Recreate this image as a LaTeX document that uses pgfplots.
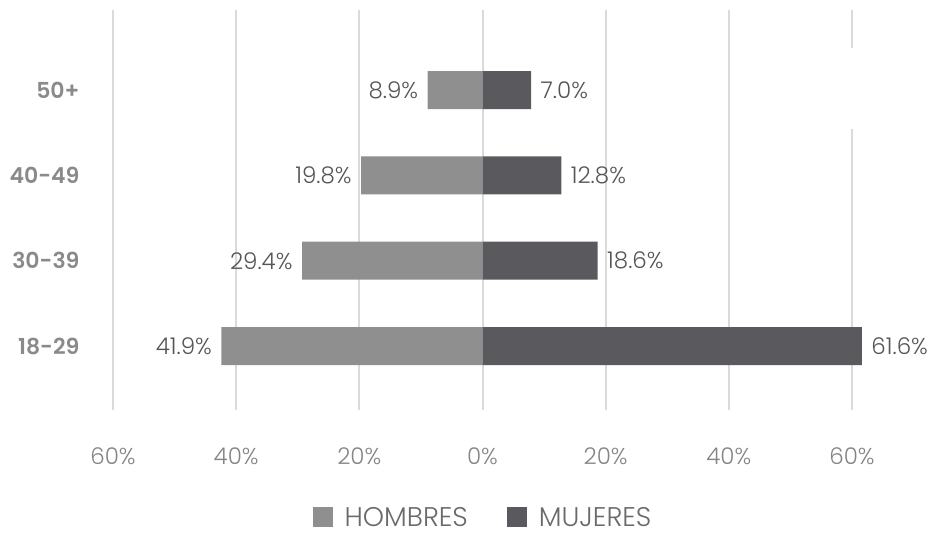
\documentclass[border=0pt]{standalone}
\usepackage{pgfplots}
\pgfplotsset{compat=1.18}
\usepackage{fontspec}
\setmainfont{Poppins}[UprightFont=* Light, BoldFont=* SemiBold]
\definecolor{hombres}{HTML}{8E8F8E}
\definecolor{mujeres}{HTML}{5A595E}
\definecolor{gridc}{HTML}{DADADA}
\definecolor{tickc}{HTML}{858585}
\definecolor{catc}{HTML}{8A8A8C}
\definecolor{valc}{HTML}{555555}
\begin{document}
\begin{tikzpicture}
\useasboundingbox (-113pt,-131pt) rectangle (820pt,410pt);
\begin{axis}[
    scale only axis,
    width=739pt, height=400pt,
    xmin=-60, xmax=60,
    ymin=-0.75, ymax=3.94,
    clip=false,
    axis line style={draw=none},
    major tick length=0pt,
    xtick={-60,-40,-20,0,20,40,60},
    xticklabels={60\%,40\%,20\%,0\%,20\%,40\%,60\%},
    xticklabel style={font=\fontsize{23}{26}\selectfont, text=tickc, yshift=-34pt},
    ytick={0,1,2,3},
    yticklabels={18-29,30-39,40-49,50+},
    yticklabel style={font=\fontsize{22}{26}\selectfont\bfseries, text=catc, xshift=-30pt},
    xmajorgrids,
    grid style={gridc, line width=2pt},
    xbar, bar width=38pt, bar shift=0pt,
    point meta=explicit symbolic,
    nodes near coords={\pgfplotspointmeta},
    nodes near coords style={font=\fontsize{23}{26}\selectfont, text=valc},
    legend style={at={(0.5,-0.268)}, anchor=center, draw=none, inner sep=0pt,
        nodes={inner sep=1pt},
        legend columns=2, font=\fontsize{27}{30}\selectfont, text=tickc!80!black,
        /tikz/every odd column/.append style={column sep=11pt},
        /tikz/every even column/.append style={column sep=38pt}},
    legend image code/.code={\fill[#1,draw=none] (0pt,-10pt) rectangle (20pt,10pt);},
]
\addplot[fill=hombres, draw=none,
    every node near coord/.append style={anchor=east, xshift=-6pt}]
    coordinates {(-42.4,0) [41.9\%] (-29.3,1) [29.4\%] (-19.7,2) [19.8\%] (-8.9,3) [8.9\%]};
\addlegendentry{HOMBRES}
\addplot[fill=mujeres, draw=none,
    every node near coord/.append style={anchor=west, xshift=6pt}]
    coordinates {(61.6,0) [61.6\%] (18.7,1) [18.6\%] (12.8,2) [12.8\%] (7.9,3) [7.0\%]};
\addlegendentry{MUJERES}
\fill[white] (axis cs:57,2.55) rectangle (axis cs:63,3.5);
\end{axis}
\end{tikzpicture}
\end{document}
